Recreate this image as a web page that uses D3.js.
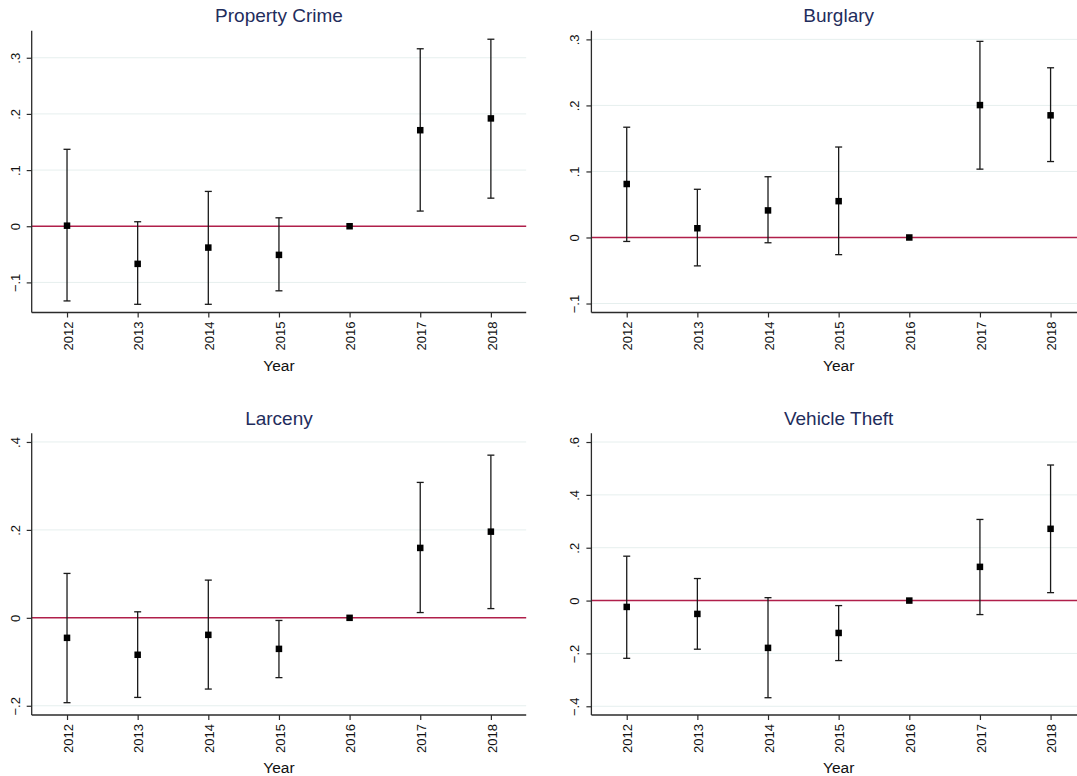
<!DOCTYPE html>
<html>
<head>
<meta charset="utf-8">
<script src="https://cdn.jsdelivr.net/npm/d3@7"></script>
<style>
  html, body { margin: 0; padding: 0; background: #ffffff; }
  svg { display: block; }
  text { font-family: "Liberation Sans", Arial, Helvetica, sans-serif; }
</style>
</head>
<body>
<svg id="chart" width="1077" height="776"></svg>
<script>
// ---- data ----
const years = [2012, 2013, 2014, 2015, 2016, 2017, 2018];
const yearLabels = ["2012", "2013", "2014", "2015", "2016", "2017", "2018"];

const panelTitles = ["Property Crime", "Burglary", "Larceny", "Vehicle Theft"];

const propertyEst = [0.001, -0.067, -0.038, -0.051, 0, 0.171, 0.192];
const propertyLo  = [-0.133, -0.139, -0.139, -0.115, null, 0.027, 0.050];
const propertyHi  = [0.137, 0.008, 0.062, 0.015, null, 0.316, 0.333];

const burglaryEst = [0.081, 0.014, 0.041, 0.055, 0, 0.2005, 0.185];
const burglaryLo  = [-0.006, -0.043, -0.008, -0.026, null, 0.1035, 0.115];
const burglaryHi  = [0.167, 0.073, 0.092, 0.137, null, 0.297, 0.257];

const larcenyEst = [-0.0455, -0.084, -0.0387, -0.0706, 0, 0.159, 0.196];
const larcenyLo  = [-0.193, -0.181, -0.162, -0.136, null, 0.012, 0.021];
const larcenyHi  = [0.101, 0.0137, 0.0858, -0.006, null, 0.308, 0.370];

const vehicleEst = [-0.024, -0.0505, -0.179, -0.1225, 0, 0.1276, 0.2716];
const vehicleLo  = [-0.2185, -0.184, -0.3676, -0.227, null, -0.053, 0.030];
const vehicleHi  = [0.168, 0.0834, 0.011, -0.019, null, 0.307, 0.513];

const propertyTicks = [-0.1, 0, 0.1, 0.2, 0.3];
const propertyTickLabels = ["\u2212.1", "0", ".1", ".2", ".3"];
const burglaryTicks = [-0.1, 0, 0.1, 0.2, 0.3];
const burglaryTickLabels = ["\u2212.1", "0", ".1", ".2", ".3"];
const larcenyTicks = [-0.2, 0, 0.2, 0.4];
const larcenyTickLabels = ["\u2212.2", "0", ".2", ".4"];
const vehicleTicks = [-0.4, -0.2, 0, 0.2, 0.4, 0.6];
const vehicleTickLabels = ["\u2212.4", "\u2212.2", "0", ".2", ".4", ".6"];

const propertyDomain = [-0.1536, 0.348];
const burglaryDomain = [-0.1136, 0.313];
const larcenyDomain = [-0.221, 0.4197];
const vehicleDomain = [-0.433, 0.633];

const xAxisTitle = "Year";

// ---- layout ----
const svg = d3.select("#chart");
const panels = [
  { title: panelTitles[0], est: propertyEst, lo: propertyLo, hi: propertyHi, ticks: propertyTicks, labels: propertyTickLabels, domain: propertyDomain, left: 31.7, top: 30.8 },
  { title: panelTitles[1], est: burglaryEst, lo: burglaryLo, hi: burglaryHi, ticks: burglaryTicks, labels: burglaryTickLabels, domain: burglaryDomain, left: 591.4, top: 30.8 },
  { title: panelTitles[2], est: larcenyEst, lo: larcenyLo, hi: larcenyHi, ticks: larcenyTicks, labels: larcenyTickLabels, domain: larcenyDomain, left: 31.7, top: 433.3 },
  { title: panelTitles[3], est: vehicleEst, lo: vehicleLo, hi: vehicleHi, ticks: vehicleTicks, labels: vehicleTickLabels, domain: vehicleDomain, left: 591.4, top: 433.3 }
];
const plotW = 494.5, plotH = 281.7;

const axisColor = "#2b2b2b";
const gridColor = "#e6efee";
const refColor = "#b01f4a";
const titleColor = "#1f2d5c";

panels.forEach(p => {
  const g = svg.append("g").attr("transform", `translate(${p.left},${p.top})`);
  const x = d3.scaleLinear().domain([2011.5, 2018.5]).range([0, plotW]);
  const y = d3.scaleLinear().domain(p.domain).range([plotH, 0]);

  // gridlines
  g.append("g").selectAll("line").data(p.ticks.filter(t => t !== 0)).join("line")
    .attr("x1", 0).attr("x2", plotW)
    .attr("y1", d => y(d)).attr("y2", d => y(d))
    .attr("stroke", gridColor).attr("stroke-width", 1);

  // reference line at 0
  g.append("line")
    .attr("x1", 0).attr("x2", plotW)
    .attr("y1", y(0)).attr("y2", y(0))
    .attr("stroke", refColor).attr("stroke-width", 1.5);

  // y axis
  const yAxis = d3.axisLeft(y).tickValues(p.ticks)
    .tickFormat((d, i) => p.labels[i]).tickSize(5).tickSizeOuter(0);
  const ya = g.append("g").call(yAxis);
  ya.select(".domain").attr("stroke", axisColor).attr("stroke-width", 1.3)
    .attr("d", `M0,0V${plotH}`);
  ya.selectAll(".tick line").attr("stroke", axisColor).attr("stroke-width", 1.2);
  ya.selectAll(".tick text")
    .attr("x", 0).attr("dy", null).attr("y", 0)
    .attr("text-anchor", "middle")
    .attr("transform", "translate(-12.2,0) rotate(-90)")
    .attr("fill", "#111").style("font-size", "13px")
    .style("font-family", "\"Liberation Sans\", Arial, sans-serif");

  // x axis
  const xAxis = d3.axisBottom(x).tickValues(years)
    .tickFormat((d, i) => yearLabels[i]).tickSize(5).tickSizeOuter(0);
  const xa = g.append("g").attr("transform", `translate(0,${plotH})`).call(xAxis);
  xa.select(".domain").attr("stroke", axisColor).attr("stroke-width", 1.3)
    .attr("d", `M0,0H${plotW}`);
  xa.selectAll(".tick line").attr("stroke", axisColor).attr("stroke-width", 1.2);
  xa.selectAll(".tick text")
    .attr("x", 0).attr("y", 0).attr("dy", null)
    .attr("text-anchor", "end")
    .attr("transform", "translate(5.2,9) rotate(-90)")
    .attr("fill", "#111").style("font-size", "13px")
    .style("font-family", "\"Liberation Sans\", Arial, sans-serif");

  // x axis title
  g.append("text")
    .attr("x", plotW / 2).attr("y", plotH + 58.5)
    .attr("text-anchor", "middle")
    .attr("fill", "#111").style("font-size", "15.5px")
    .text(xAxisTitle);

  // panel title
  g.append("text")
    .attr("x", plotW / 2).attr("y", -8.8)
    .attr("text-anchor", "middle")
    .attr("fill", titleColor).style("font-size", "19px")
    .text(p.title);

  // error bars
  const rows = years.map((yr, i) => ({ yr, est: p.est[i], lo: p.lo[i], hi: p.hi[i] }));
  const ci = rows.filter(r => r.lo !== null && r.hi !== null);
  const eb = g.append("g").attr("stroke", "#1a1a1a").attr("stroke-width", 1.3);
  eb.selectAll("line.v").data(ci).join("line").attr("class", "v")
    .attr("x1", d => x(d.yr)).attr("x2", d => x(d.yr))
    .attr("y1", d => y(d.lo)).attr("y2", d => y(d.hi));
  eb.selectAll("line.capH").data(ci).join("line").attr("class", "capH")
    .attr("x1", d => x(d.yr) - 3.5).attr("x2", d => x(d.yr) + 3.5)
    .attr("y1", d => y(d.hi)).attr("y2", d => y(d.hi));
  eb.selectAll("line.capL").data(ci).join("line").attr("class", "capL")
    .attr("x1", d => x(d.yr) - 3.5).attr("x2", d => x(d.yr) + 3.5)
    .attr("y1", d => y(d.lo)).attr("y2", d => y(d.lo));

  // markers
  const ms = 6.5;
  g.append("g").selectAll("rect").data(rows).join("rect")
    .attr("x", d => x(d.yr) - ms / 2).attr("y", d => y(d.est) - ms / 2)
    .attr("width", ms).attr("height", ms)
    .attr("fill", "#000");
});
</script>
</body>
</html>
